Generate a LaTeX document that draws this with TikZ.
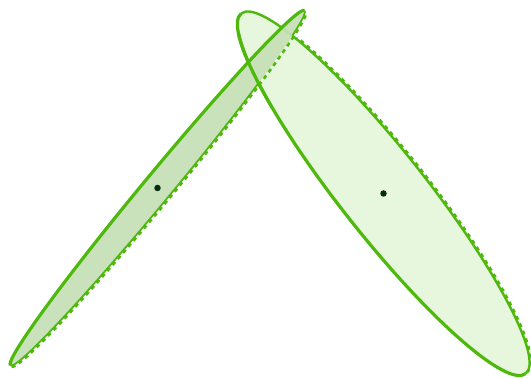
\documentclass[tikz,border=0pt]{standalone}
\definecolor{lg}{RGB}{78,184,12}
\definecolor{fillL}{RGB}{198,224,182}
\definecolor{fillR}{RGB}{230,247,221}
\definecolor{dotc}{RGB}{5,45,20}
\begin{document}
\begin{tikzpicture}[x=1pt,y=1pt,
  frontline/.style={draw=lg,line width=3.2pt},
  backlineL/.style={draw=lg,line width=1.8pt},
  backlineR/.style={draw=lg,line width=2.4pt},
  backdash/.style={draw=lg,line width=2.6pt,dash pattern=on 4pt off 4pt},
  centerdot/.style={circle,fill=dotc,inner sep=0pt,minimum size=6.5pt}]
\useasboundingbox (0,0) rectangle (531,379);
% ---------- right ellipse ----------
\begin{scope}[shift={(383.5,185.5)},rotate=-51.7]
  \fill[fillR] (0,0) ellipse[x radius=229.5,y radius=42.5];
  \draw[frontline] (229.5,0) arc[start angle=0,end angle=-180,x radius=229.5,y radius=42.5];
  \draw[backlineR] (229.5,0) arc[start angle=0,end angle=180,x radius=229.5,y radius=42.5];
  \draw[backdash] (229.5,1.6) arc[start angle=0,end angle=140,x radius=229.5,y radius=42.5];
\end{scope}
% ---------- left ellipse ----------
\begin{scope}[shift={(157.5,191)},rotate=50.35]
  \fill[fillL,fill opacity=0.92] (0,0) ellipse[x radius=230.5,y radius=14];
  \draw[frontline] (230.5,0) arc[start angle=0,end angle=180,x radius=230.5,y radius=14];
\end{scope}
% back edge of the left ellipse, hidden inside the right one
\begin{scope}[shift={(383.5,185.5)},rotate=-51.7,even odd rule]
  \clip (-700,-700) rectangle (700,700) (0,0) ellipse[x radius=229.5,y radius=42.5];
  \begin{scope}[reset cm]
    \begin{scope}[shift={(157.5,191)},rotate=50.35]
      \draw[backlineL] (-230.5,0) arc[start angle=180,end angle=360,x radius=230.5,y radius=14];
    \end{scope}
  \end{scope}
\end{scope}
% right ellipse's near edge passing in front of the left ellipse
\begin{scope}
  \clip (225,270) rectangle (272,345);
  \begin{scope}[shift={(383.5,185.5)},rotate=-51.7]
    \draw[frontline] (229.5,0) arc[start angle=0,end angle=-180,x radius=229.5,y radius=42.5];
  \end{scope}
\end{scope}
% dashed back edge of the left ellipse
\begin{scope}[shift={(157.5,191)},rotate=50.35]
  \draw[backdash] (-230.5,-1.6) arc[start angle=180,end angle=355,x radius=230.5,y radius=14];
  \node[centerdot] (cL) at (0,0) {};
\end{scope}
\node[centerdot] (cR) at (383.5,185.5) {};
\end{tikzpicture}
\end{document}
